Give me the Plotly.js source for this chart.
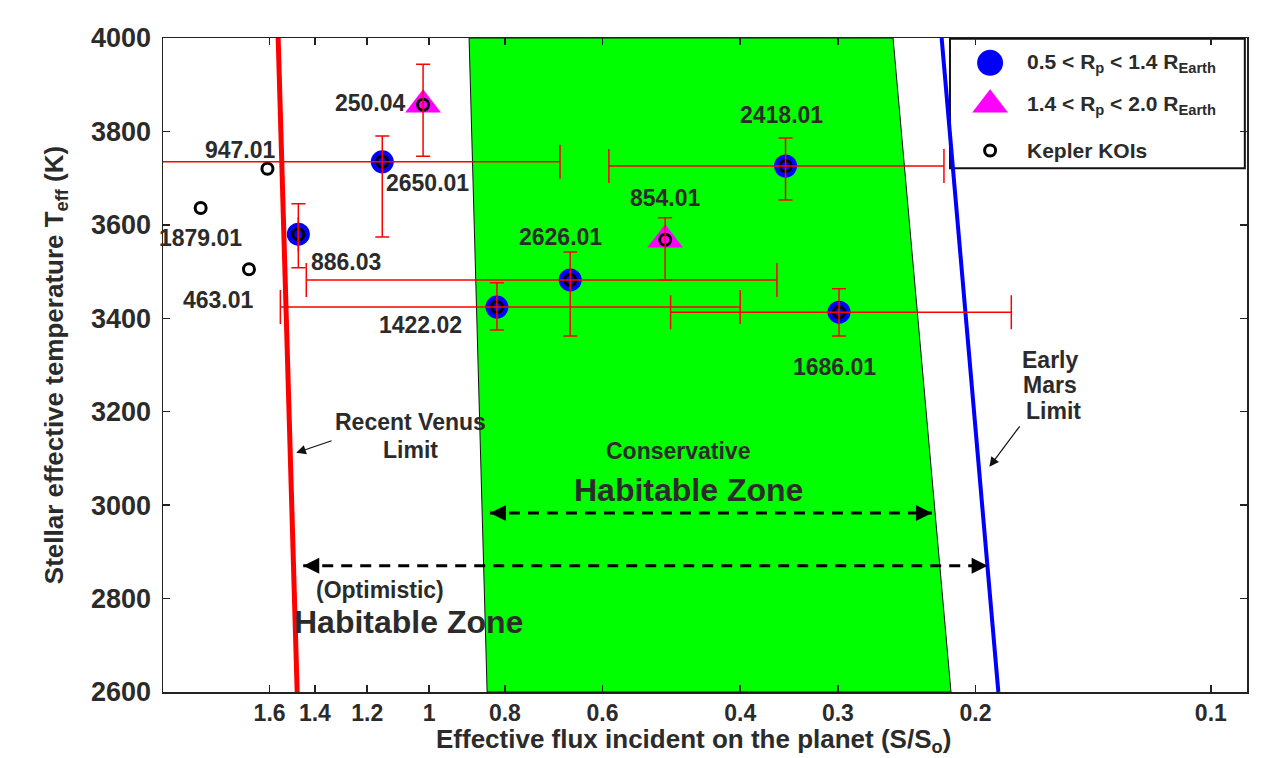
<!DOCTYPE html>
<html>
<head>
<meta charset="utf-8">
<script src="https://cdn.plot.ly/plotly-3.0.1.min.js"></script>
<style>html,body{margin:0;padding:0;background:#fff;}#chart{width:1269px;height:758px;}</style>
</head>
<body>
<div id="chart"></div>
<script>
// ---- data ----
// Small planets 0.5 < Rp < 1.4 R_Earth
const smallNames = ['2650.01', '886.03', '2626.01', '1422.02', '1686.01', '2418.01'];
const smallS     = [1.148, 1.47, 0.66, 0.819, 0.299, 0.35];
const smallSHigh = [2.6, 1.47, 1.436, 1.55, 0.491, 0.589];   // high-flux end of error bar
const smallSLow  = [0.68, 1.47, 0.359, 0.400, 0.180, 0.2195]; // low-flux end of error bar
const smallT     = [3735, 3580, 3482, 3424, 3413, 3726];
const smallTHigh = [3790, 3645, 3542, 3476, 3463, 3786];
const smallTLow  = [3574, 3508, 3362, 3375, 3362, 3653];

// Larger planets 1.4 < Rp < 2.0 R_Earth
const bigNames = ['250.04', '854.01'];
const bigS     = [1.018, 0.499];
const bigT     = [3857, 3568];
const bigTHigh = [3944, 3615];
const bigTLow  = [3747, 3482];

// Other Kepler KOIs
const koiNames = ['947.01', '1879.01', '463.01'];
const koiS     = [1.61, 1.96, 1.70];
const koiT     = [3720, 3636, 3505];

// Habitable zone limits (flux at Teff = 2600 K and 4000 K)
const limitTeff   = [2600, 4000];
const venusS      = [1.475, 1.56];
const runawayS    = [0.843, 0.889];
const maxGreenS   = [0.215, 0.255];
const marsS       = [0.187, 0.221];

// HZ width arrows
const consArrowS = [0.836, 0.2274];
const consArrowT = [2983, 2983];
const optArrowS  = [1.449, 0.193];
const optArrowT  = [2870, 2870];

// axis ticks
const xTickVals = [1.6, 1.4, 1.2, 1, 0.8, 0.6, 0.4, 0.3, 0.2, 0.1];
const xTickText = ['1.6', '1.4', '1.2', '1', '0.8', '0.6', '0.4', '0.3', '0.2', '0.1'];

// legend entries
const legendLabels = ['0.5 < R<sub>p</sub> < 1.4 R<sub>Earth</sub>', '1.4 < R<sub>p</sub> < 2.0 R<sub>Earth</sub>', 'Kepler KOIs'];

// ---- build ----
const FONT = 'Liberation Sans, Arial, Helvetica, sans-serif';
const TXT = '#2b2b2b';
const L = Math.log10;

const traces = [];
// green conservative HZ
traces.push({
  x: [runawayS[0], runawayS[1], maxGreenS[1], maxGreenS[0], runawayS[0]],
  y: [limitTeff[0], limitTeff[1], limitTeff[1], limitTeff[0], limitTeff[0]],
  mode: 'lines', fill: 'toself', fillcolor: '#00ff00',
  line: {color: '#111', width: 1}, showlegend: false, hoverinfo: 'skip'
});
traces.push({x: venusS, y: limitTeff, mode: 'lines', line: {color: '#ff0000', width: 5}, showlegend: false, hoverinfo: 'skip'});
traces.push({x: marsS, y: limitTeff, mode: 'lines', line: {color: '#0000ff', width: 4}, showlegend: false, hoverinfo: 'skip'});
// dashed arrows
[[consArrowS, consArrowT], [optArrowS, optArrowT]].forEach(function(a){
  traces.push({x: a[0], y: a[1], mode: 'lines+markers',
    line: {color: '#000', width: 3, dash: '11px,8px'},
    marker: {symbol: ['arrow-left', 'arrow-right'], size: 16, color: '#000', line: {width: 0}},
    showlegend: false, hoverinfo: 'skip'});
});
// markers
const blueMarker = {symbol: 'circle', size: 23, color: '#0000ff'};
const pinkMarker = {symbol: 'triangle-up', size: 31, color: '#ff00ff'};
const koiMarker  = {symbol: 'circle-open', size: 11, color: '#000', line: {width: 3, color: '#000'}};
traces.push({x: smallS, y: smallT, mode: 'markers', name: legendLabels[0], showlegend: false, marker: blueMarker, text: smallNames});
traces.push({x: bigS, y: bigT, mode: 'markers', name: legendLabels[1], showlegend: false, marker: pinkMarker, text: bigNames});
traces.push({x: koiS.concat(smallS, bigS), y: koiT.concat(smallT, bigT), mode: 'markers', name: legendLabels[2], showlegend: false, marker: koiMarker});
// error bars drawn on top
traces.push({x: smallS, y: smallT, mode: 'markers', marker: {size: 1, color: 'rgba(0,0,0,0)'}, showlegend: false, hoverinfo: 'skip',
  error_x: {type: 'data', symmetric: false,
    array: smallS.map(function(s, i){ return smallSHigh[i] - s; }),
    arrayminus: smallS.map(function(s, i){ return s - smallSLow[i]; }),
    color: '#ff0000', thickness: 1.5, width: 17},
  error_y: {type: 'data', symmetric: false,
    array: smallT.map(function(t, i){ return smallTHigh[i] - t; }),
    arrayminus: smallT.map(function(t, i){ return t - smallTLow[i]; }),
    color: '#ff0000', thickness: 1.5, width: 7}
});
traces.push({x: bigS, y: bigT, mode: 'markers', marker: {size: 1, color: 'rgba(0,0,0,0)'}, showlegend: false, hoverinfo: 'skip',
  error_y: {type: 'data', symmetric: false,
    array: bigT.map(function(t, i){ return bigTHigh[i] - t; }),
    arrayminus: bigT.map(function(t, i){ return t - bigTLow[i]; }),
    color: '#ff0000', thickness: 1.5, width: 7}
});

// custom legend (symbols on an overlay axis in [0,1] units)
const legX = 0.763, legTextX = 0.795;
const legY = [0.962, 0.898, 0.828];
const legMarkers = [
  {symbol: 'circle', size: 26, color: '#0000ff'},
  {symbol: 'triangle-up', size: 31, color: '#ff00ff'},
  {symbol: 'circle-open', size: 11, color: '#000', line: {width: 3, color: '#000'}}
];
legMarkers.forEach(function(m, i){
  traces.push({x: [legX], y: [legY[i]], xaxis: 'x2', yaxis: 'y2', mode: 'markers', marker: m,
    showlegend: false, hoverinfo: 'skip', cliponaxis: false});
});

// planet label placement (data coords)
const labelPos = {
  '250.04': [1.190, 3861], '947.01': [1.744, 3760], '2650.01': [1.006, 3690],
  '1879.01': [1.963, 3572], '886.03': [1.277, 3520], '463.01': [1.861, 3439],
  '1422.02': [1.027, 3386], '2626.01': [0.680, 3574], '854.01': [0.498, 3657],
  '2418.01': [0.354, 3835], '1686.01': [0.303, 3296]
};
const annotations = [];
Object.keys(labelPos).forEach(function(k){
  annotations.push({x: L(labelPos[k][0]), y: labelPos[k][1], xref: 'x', yref: 'y', text: k, showarrow: false,
    font: {family: FONT, size: 23, color: TXT, weight: 'bold'}});
});
function txt(s, t, text, size){
  annotations.push({x: L(s), y: t, xref: 'x', yref: 'y', text: text, showarrow: false,
    font: {family: FONT, size: size, color: TXT, weight: 'bold'}});
}
txt(1.057, 3178, 'Recent Venus', 23);
txt(1.057, 3118, 'Limit', 23);
txt(0.1607, 3311, 'Early', 23);
txt(0.1607, 3257, 'Mars', 23);
txt(0.1590, 3202, 'Limit', 23);
txt(0.480, 3116, 'Conservative', 23);
txt(0.466, 3032, 'Habitable Zone', 32);
txt(1.155, 2818, '(Optimistic)', 23);
txt(1.064, 2750, 'Habitable Zone', 32);
function arrow(hs, ht, ts, tt){
  annotations.push({x: L(hs), y: ht, ax: L(ts), ay: tt, xref: 'x', yref: 'y', axref: 'x', ayref: 'y',
    text: '', showarrow: true, arrowhead: 2, arrowsize: 1.6, arrowwidth: 1.2, arrowcolor: '#111'});
}
arrow(1.479, 3112, 1.327, 3139);
arrow(0.192, 3082, 0.175, 3172);
// x axis title
annotations.push({x: 0.5, y: 0, xref: 'paper', yref: 'paper', xshift: -12, yanchor: 'middle', yshift: -48, showarrow: false,
  text: 'Effective flux incident on the planet (S/S<sub>o</sub>)',
  font: {family: FONT, size: 26, color: TXT, weight: 'bold'}});
// legend text
legendLabels.forEach(function(t, i){
  annotations.push({x: legTextX, y: legY[i], xref: 'paper', yref: 'paper', xanchor: 'left', yanchor: 'middle',
    text: t, showarrow: false, font: {family: FONT, size: 21, color: TXT, weight: 'bold'}});
});

const layout = {
  width: 1269, height: 758,
  paper_bgcolor: '#fff', plot_bgcolor: '#fff',
  margin: {l: 163, r: 22, t: 38, b: 66},
  font: {family: FONT, color: TXT},
  showlegend: false,
  xaxis: {
    type: 'log', range: [L(2.19), L(0.0899)],
    tickvals: xTickVals, ticktext: xTickText,
    ticks: 'inside', ticklen: 7, tickwidth: 1.5, tickcolor: '#222',
    showline: true, linewidth: 1.5, linecolor: '#222', mirror: 'ticks',
    showgrid: false, zeroline: false, ticklabelstandoff: 0,
    tickfont: {family: FONT, size: 23, color: TXT, weight: 'bold'}
  },
  yaxis: {
    range: [2600, 4000], dtick: 200,
    ticks: 'inside', ticklen: 7, tickwidth: 1.5, tickcolor: '#222',
    showline: true, linewidth: 1.5, linecolor: '#222', mirror: 'ticks',
    showgrid: false, zeroline: false, ticklabelstandoff: 5,
    tickfont: {family: FONT, size: 27, color: TXT, weight: 'bold'},
    title: {text: 'Stellar effective temperature T<sub>eff</sub> (K)', standoff: 20,
      font: {family: FONT, size: 26, color: TXT, weight: 'bold'}}
  },
  xaxis2: {overlaying: 'x', anchor: 'y2', range: [0, 1], visible: false, fixedrange: true},
  yaxis2: {overlaying: 'y', anchor: 'x2', range: [0, 1], visible: false, fixedrange: true},
  shapes: [{type: 'rect', xref: 'paper', yref: 'paper', x0: 0.726, x1: 0.998, y0: 0.801, y1: 0.999,
    fillcolor: '#fff', line: {color: '#111', width: 2}, layer: 'below'}],
  annotations: annotations
};

Plotly.newPlot('chart', traces, layout, {displayModeBar: false, staticPlot: true});
</script>
</body>
</html>
